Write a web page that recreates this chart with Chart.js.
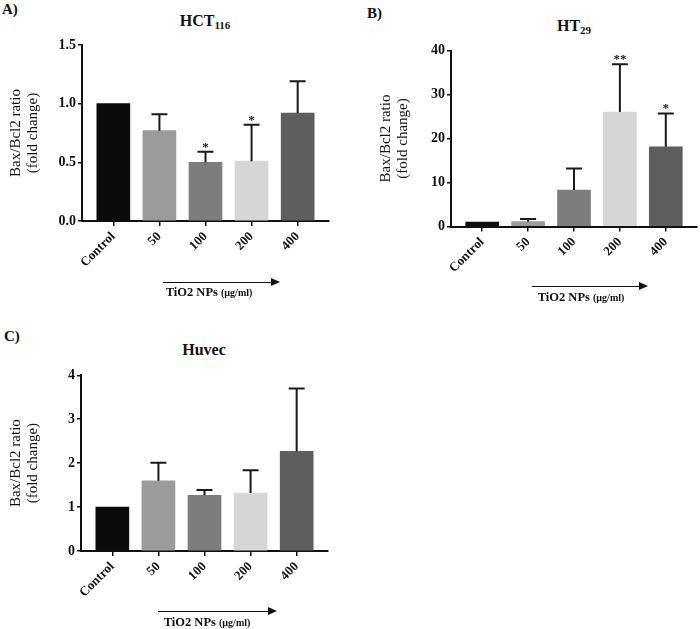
<!DOCTYPE html>
<html>
<head>
<meta charset="utf-8">
<script src="https://cdn.jsdelivr.net/npm/chart.js@4.4.0/dist/chart.umd.min.js"></script>
<style>
    body { margin: 0; background: #fff; }
    #page { position: relative; width: 700px; height: 629px; overflow: hidden; font-family: "Liberation Serif", "DejaVu Serif", serif; color: #111; }
    canvas { position: absolute; }
    .panel { position: absolute; font-weight: bold; font-size: 15px; }
    .title { position: absolute; font-weight: bold; font-size: 16px; transform: translateX(-50%); white-space: nowrap; }
    .title sub { font-size: 11px; vertical-align: -3px; line-height: 0; }
    .arrow { position: absolute; height: 1px; background: #111; }
    .arrow::after { content: ''; position: absolute; right: -2px; top: -4px; border-left: 9px solid #111; border-top: 4.5px solid transparent; border-bottom: 4.5px solid transparent; }
    .xlabel { position: absolute; font-weight: bold; font-size: 12.5px; transform: translateX(-50%); white-space: nowrap; }
    .xlabel span { font-size: 10px; }
</style>
</head>
<body>
<div id="page">
    <div class="panel" style="left:2px; top:1px;">A)</div>
    <div class="panel" style="left:367px; top:5px;">B)</div>
    <div class="panel" style="left:4px; top:328px;">C)</div>

    <div class="title" style="left:205px; top:12px;">HCT<sub>116</sub></div>
    <div class="title" style="left:574px; top:17px;">HT<sub>29</sub></div>
    <div class="title" style="left:204px; top:341px;">Huvec</div>

    <canvas id="chartA" width="340" height="300" style="left:0; top:0;"></canvas>
    <canvas id="chartB" width="330" height="310" style="left:370px; top:0;"></canvas>
    <canvas id="chartC" width="340" height="309" style="left:0; top:320px;"></canvas>

    <div class="arrow" style="left:163px; top:282px; width:115px;"></div>
    <div class="xlabel" style="left:209px; top:285px;">TiO2 NPs <span>(µg/ml)</span></div>
    <div class="arrow" style="left:532px; top:286px; width:114px;"></div>
    <div class="xlabel" style="left:581px; top:290px;">TiO2 NPs <span>(µg/ml)</span></div>
    <div class="arrow" style="left:158px; top:611px; width:117px;"></div>
    <div class="xlabel" style="left:207px; top:615px;">TiO2 NPs <span>(µg/ml)</span></div>
</div>

<script>
// Data
const categories = ['Control', '50', '100', '200', '400'];
const barColors = ['#0b0b0b', '#9b9b9b', '#7d7d7d', '#d6d6d6', '#5e5e5e'];

const hctMeans = [1.0, 0.77, 0.50, 0.51, 0.92];
const hctErrors = [0, 0.14, 0.09, 0.31, 0.27];
const hctStars = ['', '', '*', '*', ''];

const ht29Means = [1.0, 1.1, 8.3, 26.0, 18.1];
const ht29Errors = [0, 0.6, 4.9, 10.9, 7.6];
const ht29Stars = ['', '', '', '**', '*'];

const huvecMeans = [1.0, 1.6, 1.27, 1.32, 2.27];
const huvecErrors = [0, 0.41, 0.12, 0.52, 1.43];
const huvecStars = ['', '', '', '', ''];

const yTitle = ['Bax/Bcl2 ratio', '(fold change)'];
const fontFamily = '"Liberation Serif", "DejaVu Serif", serif';
const ink = '#111';

// Upper error bars and significance stars
const errorBars = {
    id: 'errorBars',
    afterDatasetsDraw(chart, args, opts) {
        const ctx = chart.ctx;
        const yScale = chart.scales.y;
        const meta = chart.getDatasetMeta(0);
        const values = chart.data.datasets[0].data;
        ctx.save();
        ctx.strokeStyle = '#1a1a1a';
        ctx.fillStyle = '#1a1a1a';
        ctx.lineWidth = 2;
        ctx.font = 'bold 13px ' + fontFamily;
        ctx.textAlign = 'center';
        ctx.textBaseline = 'alphabetic';
        meta.data.forEach((bar, i) => {
            const err = opts.errors[i];
            if (!err) return;
            const yTop = yScale.getPixelForValue(values[i].y + err);
            ctx.beginPath();
            ctx.moveTo(bar.x, bar.y);
            ctx.lineTo(bar.x, yTop);
            ctx.moveTo(bar.x - 8, yTop);
            ctx.lineTo(bar.x + 8, yTop);
            ctx.stroke();
            if (opts.stars[i]) {
                ctx.fillText(opts.stars[i], bar.x, yTop - 1);
            }
        });
        ctx.restore();
    }
};

function makePanel(id, means, errors, stars, yMax, yStep, decimals, box) {
    const ctx = document.getElementById(id).getContext('2d');
    return new Chart(ctx, {
        type: 'bar',
        data: {
            datasets: [{
                data: means.map((v, i) => ({ x: i, y: v })),
                backgroundColor: barColors,
                borderWidth: 0,
                barThickness: 33
            }]
        },
        options: {
            responsive: false,
            animation: false,
            devicePixelRatio: 1,
            layout: { padding: { top: box.top, right: box.right, left: 0, bottom: 0 } },
            plugins: {
                legend: { display: false },
                tooltip: { enabled: false },
                errorBars: { errors: errors, stars: stars }
            },
            scales: {
                x: {
                    type: 'linear',
                    min: -0.68,
                    max: 4.68,
                    offset: false,
                    afterFit: s => { s.height = box.xHeight; },
                    border: { display: true, color: ink, width: 2 },
                    grid: { offset: false, drawOnChartArea: false, drawTicks: true, tickLength: 5, color: ink, lineWidth: 1.5 },
                    ticks: {
                        stepSize: 1,
                        includeBounds: false,
                        autoSkip: false,
                        minRotation: 45,
                        maxRotation: 45,
                        padding: 3,
                        color: ink,
                        font: { family: fontFamily, size: 13, weight: 'bold' },
                        callback: v => categories[v] ?? ''
                    }
                },
                y: {
                    min: 0,
                    max: yMax,
                    afterFit: s => { s.width = box.yWidth; },
                    border: { display: true, color: ink, width: 2 },
                    grid: { drawOnChartArea: false, drawTicks: true, tickLength: 4, color: ink, lineWidth: 1.5 },
                    ticks: {
                        stepSize: yStep,
                        padding: 2,
                        color: ink,
                        font: { family: fontFamily, size: 14, weight: 'bold' },
                        callback: v => v.toFixed(decimals)
                    },
                    title: {
                        display: true,
                        text: yTitle,
                        color: ink,
                        font: { family: fontFamily, size: 15, lineHeight: 1.1 },
                        padding: { top: 8, bottom: 0 }
                    }
                }
            }
        },
        plugins: [errorBars]
    });
}

makePanel('chartA', hctMeans, hctErrors, hctStars, 1.5, 0.5, 1,
    { yWidth: 82, top: 45, xHeight: 79, right: 11 });
makePanel('chartB', ht29Means, ht29Errors, ht29Stars, 40, 10, 0,
    { yWidth: 81, top: 50.5, xHeight: 83.5, right: 3 });
makePanel('chartC', huvecMeans, huvecErrors, huvecStars, 4, 1, 0,
    { yWidth: 81, top: 55.3, xHeight: 78, right: 12 });
</script>
</body>
</html>
